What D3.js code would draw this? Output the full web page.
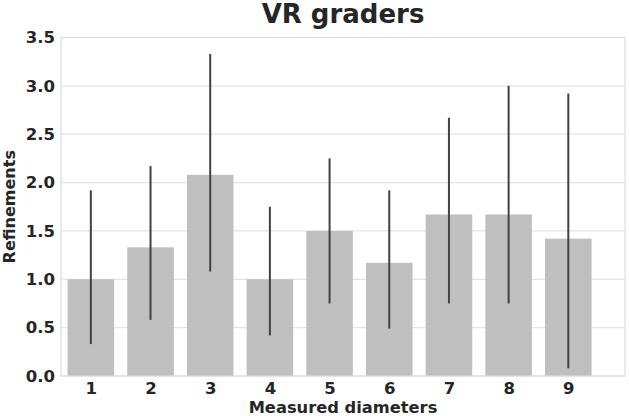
<!DOCTYPE html>
<html>
<head>
<meta charset="utf-8">
<script src="https://cdn.jsdelivr.net/npm/d3@7"></script>
<style>
  html, body { margin: 0; padding: 0; background: #ffffff; }
  svg { display: block; }
  text { font-family: "DejaVu Sans", sans-serif; fill: #262626; }
</style>
</head>
<body>
<script>
const categories = ["1", "2", "3", "4", "5", "6", "7", "8", "9"];
const means = [1.0, 1.33, 2.08, 1.0, 1.5, 1.17, 1.67, 1.67, 1.42];
const errLow = [0.33, 0.58, 1.08, 0.42, 0.75, 0.49, 0.75, 0.75, 0.08];
const errHigh = [1.92, 2.17, 3.33, 1.75, 2.25, 1.92, 2.67, 3.0, 2.92];
const yTicks = [0, 0.5, 1.0, 1.5, 2.0, 2.5, 3.0, 3.5];
const title = "VR graders";
const xTitle = "Measured diameters";
const yTitle = "Refinements";

const W = 629, H = 416;
const mLeft = 61, mRight = 625, mTop = 37.5, mBottom = 376;

const svg = d3.select("body").append("svg").attr("width", W).attr("height", H);

const x = d3.scaleLinear().domain([-0.5, 8.95]).range([mLeft, mRight]);
const y = d3.scaleLinear().domain([0, 3.5]).range([mBottom, mTop]);
const step = x(1) - x(0);
const bw = step * 0.78;

// grid
svg.append("g").selectAll("line").data(yTicks).join("line")
  .attr("x1", mLeft).attr("x2", mRight)
  .attr("y1", d => y(d)).attr("y2", d => y(d))
  .attr("stroke", "#e3e3e3").attr("stroke-width", 1.2);

// bars
svg.append("g").selectAll("rect").data(means).join("rect")
  .attr("x", (d, i) => x(i) - bw / 2)
  .attr("width", bw)
  .attr("y", d => y(d))
  .attr("height", d => y(0) - y(d))
  .attr("fill", "#bfbfbf");

// error bars
svg.append("g").selectAll("line").data(categories).join("line")
  .attr("x1", (d, i) => x(i)).attr("x2", (d, i) => x(i))
  .attr("y1", (d, i) => y(errLow[i])).attr("y2", (d, i) => y(errHigh[i]))
  .attr("stroke", "#424242").attr("stroke-width", 2);

// frame
svg.append("rect")
  .attr("x", mLeft).attr("y", mTop)
  .attr("width", mRight - mLeft).attr("height", mBottom - mTop)
  .attr("fill", "none").attr("stroke", "#dcdcdc").attr("stroke-width", 1.2);

// y axis
const yAxis = d3.axisLeft(y).tickValues(yTicks).tickFormat(d3.format(".1f")).tickSize(0).tickPadding(6);
const gy = svg.append("g").attr("transform", `translate(${mLeft},0)`).call(yAxis);
gy.select(".domain").remove();
gy.selectAll("text").attr("font-size", 16.5).attr("font-weight", "bold")
  .style("font-family", "DejaVu Sans").attr("fill", "#262626");

// x axis
const xAxis = d3.axisBottom(x).tickValues(d3.range(categories.length)).tickFormat(i => categories[i]).tickSize(0).tickPadding(6);
const gx = svg.append("g").attr("transform", `translate(0,${mBottom})`).call(xAxis);
gx.select(".domain").remove();
gx.selectAll("text").attr("font-size", 16.5).attr("font-weight", "bold")
  .style("font-family", "DejaVu Sans").attr("fill", "#262626");

// titles
const cx = (mLeft + mRight) / 2;
svg.append("text").attr("x", cx).attr("y", 23).attr("text-anchor", "middle")
  .attr("font-size", 26).attr("font-weight", "bold").text(title);
svg.append("text").attr("x", cx).attr("y", 413).attr("text-anchor", "middle")
  .attr("font-size", 16.3).attr("font-weight", "bold").text(xTitle);
svg.append("text").attr("transform", `translate(15,${(mTop + mBottom) / 2}) rotate(-90)`)
  .attr("text-anchor", "middle").attr("font-size", 16).attr("font-weight", "bold").text(yTitle);
</script>
</body>
</html>
